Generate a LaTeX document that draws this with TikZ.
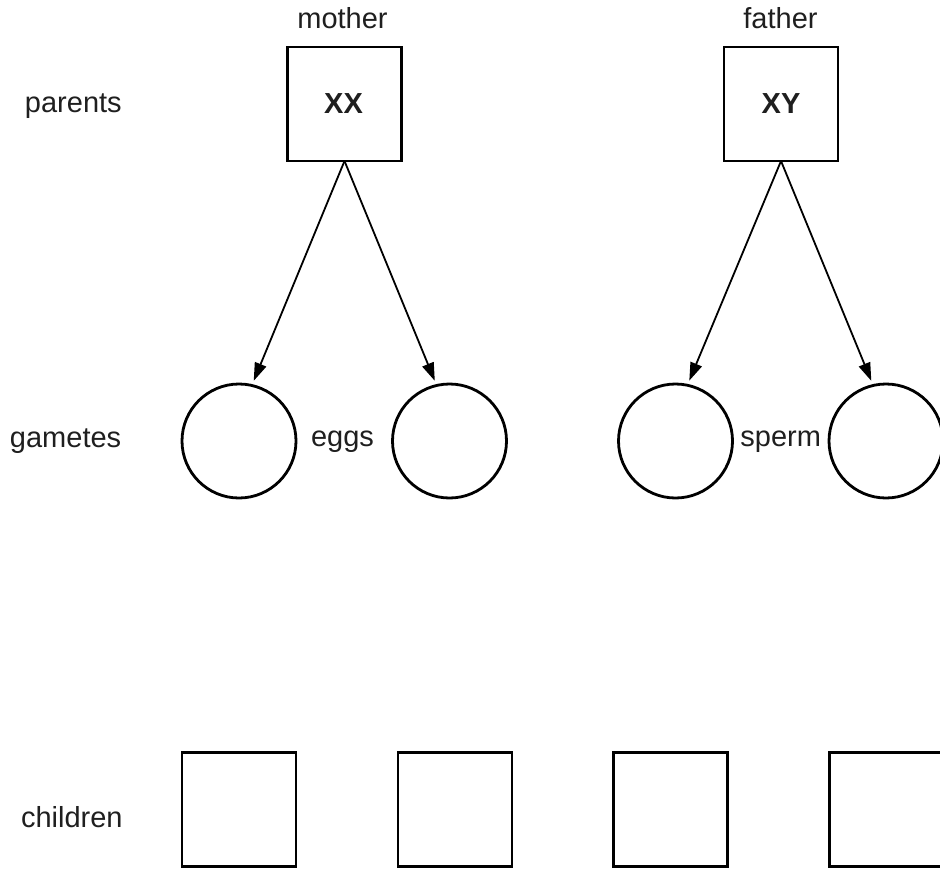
\documentclass[tikz,border=0pt]{standalone}
\usepackage{fontspec}
\setmainfont{Liberation Sans}
\usetikzlibrary{arrows.meta}
\begin{document}
\begin{tikzpicture}[x=0.5pt,y=-0.5pt,
  lbl/.style={inner sep=0pt, outer sep=0pt, text=black!88, font=\fontsize{14.5}{17}\selectfont},
  sq/.style={draw, line width=1.4pt, minimum size=57pt, inner sep=0pt, outer sep=0pt},
  gam/.style={draw, circle, line width=1.4pt, minimum size=57pt, inner sep=0pt, outer sep=0pt},
  arr/.style={-{Triangle[length=9pt,width=6pt]}, line width=0.9pt, shorten >=2.5pt}]
\useasboundingbox (0,0) rectangle (940,871);
% row labels
\node[lbl, anchor=base west] (lpar) at (25,113) {parents};
\node[lbl, anchor=base west] (lgam) at (10,447) {gametes};
\node[lbl, anchor=base west] (lchi) at (21,827.5) {children};
% parents
\node[sq] (mother) at (344.5,104) {};
\node[sq] (father) at (781,104) {};
\node[lbl, anchor=base] (xx) at (343.5,113.3) {\textbf{XX}};
\node[lbl, anchor=base] (xy) at (781,113.3) {\textbf{XY}};
\node[lbl, anchor=base] (lmother) at (342.5,28.3) {mother};
\node[lbl, anchor=base] (lfather) at (780.5,28.3) {father};
% gametes
\node[gam] (e1) at (239,441) {};
\node[gam] (e2) at (449.5,441) {};
\node[gam] (s1) at (675.5,441) {};
\node[gam] (s2) at (886,441) {};
\node[lbl, anchor=base] (leggs) at (342.5,446.7) {eggs};
\node[lbl, anchor=base] (lsperm) at (780.7,446.7) {sperm};
% arrows
\draw[arr] (mother.south) -- (e1.77);
\draw[arr] (mother.south) -- (e2.103);
\draw[arr] (father.south) -- (s1.78);
\draw[arr] (father.south) -- (s2.103);
% children
\node[sq] (c1) at (239,809.5) {};
\node[sq] (c2) at (455,809.5) {};
\node[sq] (c3) at (670.5,809.5) {};
\node[sq] (c4) at (886.5,809.5) {};
\end{tikzpicture}
\end{document}
